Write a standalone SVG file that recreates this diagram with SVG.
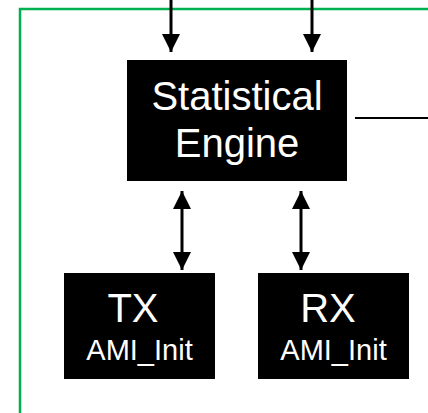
<svg xmlns="http://www.w3.org/2000/svg" width="428" height="413" viewBox="0 0 428 413">
<style>
.box{fill:#000}
.t{fill:#fff;font-family:"Liberation Sans",Arial,sans-serif;text-anchor:middle}
.big{font-size:40px}
.small{font-size:29px}
.ln{stroke:#000;stroke-width:3;fill:none}
</style>
<defs>
<marker id="ah" markerUnits="userSpaceOnUse" markerWidth="18" markerHeight="18" viewBox="0 0 18 18" refX="18" refY="9" orient="auto-start-reverse">
<path d="M0,0 L18,9 L0,18 Z" fill="#000"/>
</marker>
</defs>
<path d="M20,413 V9 H428" fill="none" stroke="#00b050" stroke-width="2.5"/>
<g id="connectors">
<line class="ln" x1="171" y1="0" x2="171" y2="52" marker-end="url(#ah)"/>
<line class="ln" x1="312" y1="0" x2="312" y2="52" marker-end="url(#ah)"/>
<line class="ln" x1="182" y1="191" x2="182" y2="270" marker-start="url(#ah)" marker-end="url(#ah)"/>
<line class="ln" x1="301" y1="191" x2="301" y2="270" marker-start="url(#ah)" marker-end="url(#ah)"/>
<line x1="355" y1="118" x2="428" y2="118" stroke="#000" stroke-width="2"/>
</g>
<g id="engine">
<rect class="box" x="127" y="60" width="220" height="121"/>
<text class="t big" x="237" y="110">Statistical</text>
<text class="t big" x="237" y="157">Engine</text>
</g>
<g id="tx">
<rect class="box" x="64" y="273" width="151" height="106"/>
<text class="t big" x="133" y="322">TX</text>
<text class="t small" x="139.5" y="360">AMI_Init</text>
</g>
<g id="rx">
<rect class="box" x="258" y="273" width="151" height="106"/>
<text class="t big" x="328" y="322">RX</text>
<text class="t small" x="333.5" y="360">AMI_Init</text>
</g>
</svg>
